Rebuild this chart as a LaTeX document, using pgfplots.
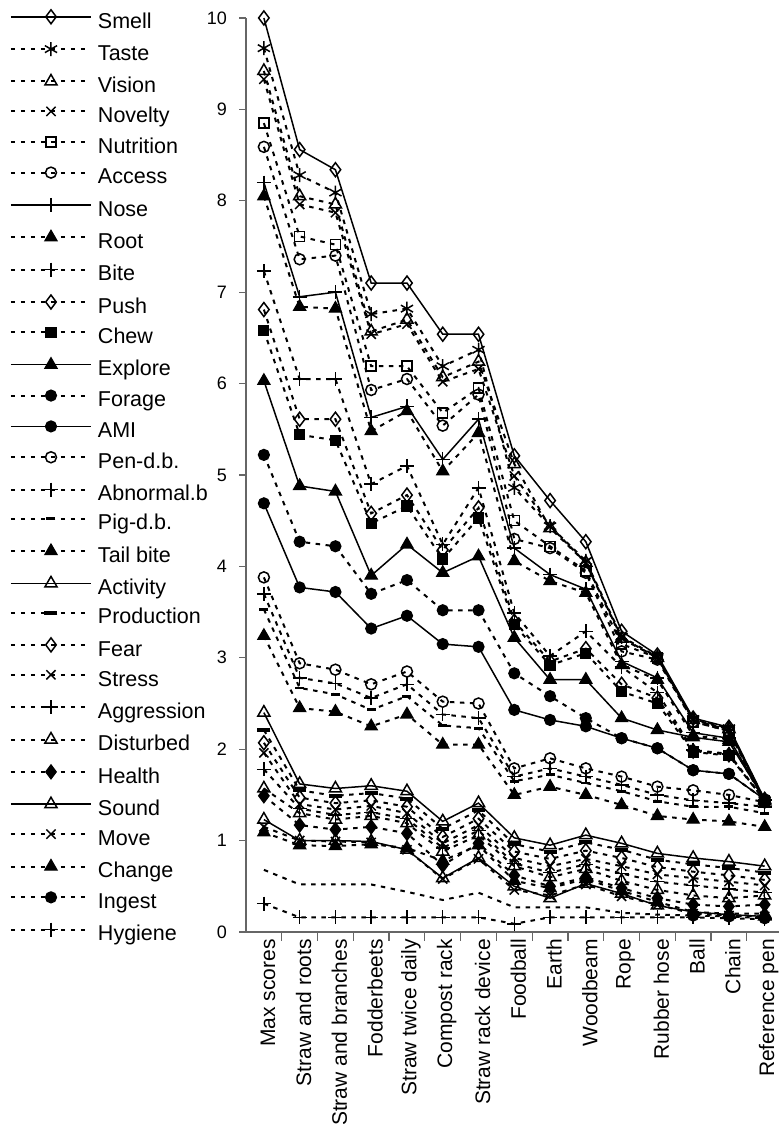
\documentclass[border=0pt]{standalone}
\usepackage{fontspec}
\setmainfont{Liberation Sans}
\usepackage{pgfplots}
\usepackage{pgfplotstable}
\pgfplotsset{compat=1.18}

\pgfplotstableread{
x Smell Taste Vision Novelty Nutrition Access Nose Root Bite Push Chew Explore Forage AMI Pen Abn Pig Tail Activity Production Fear Stress Aggression Disturbed Health Sound Move Change Ingest Hygiene
0 10.0 9.67 9.42 9.33 8.85 8.59 8.20 8.05 7.23 6.81 6.58 6.03 5.22 4.69 3.88 3.70 3.53 3.24 2.40 2.21 2.07 1.96 1.78 1.57 1.49 1.23 1.15 1.09 0.68 0.31
1 8.56 8.28 8.05 7.96 7.61 7.36 6.95 6.84 6.05 5.61 5.44 4.88 4.27 3.77 2.94 2.78 2.67 2.45 1.62 1.55 1.47 1.40 1.35 1.30 1.17 1.00 1.00 0.95 0.52 0.16
2 8.34 8.09 7.96 7.87 7.52 7.40 7.00 6.82 6.05 5.61 5.38 4.82 4.22 3.72 2.87 2.72 2.60 2.41 1.57 1.49 1.41 1.34 1.28 1.23 1.12 1.00 0.99 0.94 0.52 0.16
3 7.10 6.76 6.57 6.54 6.19 5.93 5.63 5.48 4.90 4.58 4.47 3.90 3.70 3.32 2.71 2.56 2.43 2.25 1.60 1.52 1.44 1.38 1.31 1.27 1.15 0.99 0.98 0.96 0.52 0.16
4 7.10 6.82 6.70 6.65 6.19 6.05 5.75 5.70 5.10 4.78 4.66 4.24 3.85 3.46 2.85 2.71 2.58 2.38 1.54 1.46 1.37 1.30 1.24 1.19 1.08 0.90 0.90 0.92 0.44 0.16
5 6.54 6.19 6.07 6.02 5.68 5.54 5.17 5.04 4.24 4.18 4.08 3.93 3.52 3.15 2.52 2.38 2.26 2.05 1.21 1.13 1.04 0.97 0.92 0.88 0.73 0.59 0.58 0.78 0.35 0.16
6 6.54 6.37 6.24 6.16 5.95 5.88 5.61 5.46 4.86 4.64 4.53 4.11 3.52 3.12 2.50 2.34 2.23 2.05 1.41 1.33 1.24 1.17 1.11 1.06 0.97 0.81 0.80 0.95 0.43 0.16
7 5.21 4.86 5.12 4.99 4.50 4.30 4.20 4.06 3.49 3.40 3.36 3.22 2.83 2.43 1.79 1.70 1.65 1.50 1.03 0.96 0.88 0.81 0.75 0.72 0.62 0.50 0.46 0.56 0.27 0.09
8 4.72 4.44 4.42 4.44 4.22 4.20 3.91 3.84 3.02 2.96 2.92 2.76 2.58 2.32 1.90 1.79 1.72 1.59 0.95 0.88 0.80 0.72 0.65 0.60 0.50 0.37 0.40 0.48 0.27 0.16
9 4.27 4.06 4.04 4.04 3.95 3.93 3.75 3.71 3.29 3.10 3.05 2.76 2.34 2.25 1.79 1.70 1.63 1.50 1.06 0.98 0.89 0.80 0.74 0.69 0.60 0.53 0.52 0.58 0.27 0.16
10 3.29 3.23 3.21 3.22 3.15 3.07 2.96 2.92 2.90 2.71 2.63 2.34 2.12 2.12 1.70 1.61 1.54 1.39 0.97 0.90 0.81 0.72 0.64 0.56 0.48 0.42 0.39 0.45 0.21 0.16
11 3.03 3.01 3.00 3.00 3.00 2.98 2.78 2.76 2.62 2.56 2.50 2.21 2.01 2.01 1.59 1.50 1.43 1.27 0.86 0.79 0.71 0.63 0.55 0.46 0.37 0.29 0.30 0.33 0.19 0.16
12 2.34 2.33 2.32 2.32 2.30 2.30 2.18 2.15 1.99 1.98 1.97 2.13 1.77 1.77 1.55 1.44 1.37 1.23 0.81 0.74 0.66 0.59 0.51 0.40 0.30 0.22 0.20 0.22 0.18 0.16
13 2.24 2.23 2.22 2.21 2.20 2.20 2.12 2.10 1.95 1.94 1.93 2.08 1.73 1.73 1.50 1.41 1.37 1.21 0.77 0.70 0.62 0.55 0.47 0.37 0.28 0.19 0.18 0.20 0.17 0.15
14 1.45 1.44 1.43 1.43 1.43 1.42 1.45 1.44 1.44 1.44 1.44 1.45 1.45 1.45 1.42 1.37 1.30 1.15 0.72 0.65 0.57 0.51 0.43 0.40 0.30 0.17 0.17 0.20 0.15 0.14
}\data

\tikzset{
  sl/.style={black, line width=1.5pt, solid},
  dl/.style={black, line width=2pt, dash pattern=on 4.5pt off 5.5pt},
  om/.style={mark options={solid, fill=white, line width=1.5pt}},
  fm/.style={mark options={solid, fill=black, line width=1.2pt}},
}

\begin{document}
\begin{tikzpicture}[x=1pt,y=1pt]
\useasboundingbox (0,0) rectangle (779,1147);
\begin{axis}[
  at={(246pt,215pt)}, anchor=south west,
  scale only axis, width=533pt, height=914pt,
  xmin=-0.5, xmax=14.4, ymin=0, ymax=10,
  clip=false,
  axis lines=left,
  axis line style={-, black!60, line width=1.4pt},
  tick align=outside,
  xtick={0,...,14},
  xticklabels={Max scores,Straw and roots,Straw and branches,Fodderbeets,Straw twice daily,Compost rack,Straw rack device,Foodball,Earth,Woodbeam,Rope,Rubber hose,Ball,Chain,Reference pen},
  major x tick style={draw=none},
  minor xtick={0.5,1.5,...,13.5},
  minor x tick style={black!60, line width=1.2pt},
  minor tick length=9pt,
  ytick={0,...,10},
  major y tick style={black!60, line width=1.2pt},
  major tick length=7pt,
  xticklabel style={rotate=90, anchor=east, font=\fontsize{21}{24}\selectfont, inner sep=0pt, yshift=-4pt},
  yticklabel style={font=\fontsize{18}{20}\selectfont, inner sep=0pt, xshift=-12pt},
  /pgf/number format/assume math mode=true,
  legend style={at={(-0.4428,1.009)}, anchor=north west, draw=none, fill=none,
    inner sep=0pt, outer sep=0pt, row sep=9.6pt, column sep=6pt,
    font=\fontsize{21.5}{24}\selectfont,
    nodes={inner sep=0pt, text height=15pt, text depth=4.5pt}},
  legend cell align=left,
  legend image code/.code={\draw[mark repeat=2,mark phase=2,#1] plot coordinates {(0pt,6pt) (40pt,6pt) (80pt,6pt)};},
]
\addplot[sl, mark=diamond, mark size=7pt, om] table[x=x,y=Smell]{\data}; \addlegendentry{Smell}
\addplot[dl, mark=asterisk, mark size=7pt, om] table[x=x,y=Taste]{\data}; \addlegendentry{Taste}
\addplot[dl, mark=triangle, mark size=7pt, om] table[x=x,y=Vision]{\data}; \addlegendentry{Vision}
\addplot[dl, mark=x, mark size=6.5pt, om] table[x=x,y=Novelty]{\data}; \addlegendentry{Novelty}
\addplot[dl, mark=square, mark size=5pt, om] table[x=x,y=Nutrition]{\data}; \addlegendentry{Nutrition}
\addplot[dl, mark=o, mark size=5.5pt, om] table[x=x,y=Access]{\data}; \addlegendentry{Access}
\addplot[sl, mark=+, mark size=7pt, om] table[x=x,y=Nose]{\data}; \addlegendentry{Nose}
\addplot[dl, mark=triangle*, mark size=7pt, fm] table[x=x,y=Root]{\data}; \addlegendentry{Root}
\addplot[dl, mark=+, mark size=7pt, om] table[x=x,y=Bite]{\data}; \addlegendentry{Bite}
\addplot[dl, mark=diamond, mark size=7pt, om] table[x=x,y=Push]{\data}; \addlegendentry{Push}
\addplot[dl, mark=square*, mark size=5pt, fm] table[x=x,y=Chew]{\data}; \addlegendentry{Chew}
\addplot[sl, mark=triangle*, mark size=7pt, fm] table[x=x,y=Explore]{\data}; \addlegendentry{Explore}
\addplot[dl, mark=*, mark size=5.5pt, fm] table[x=x,y=Forage]{\data}; \addlegendentry{Forage}
\addplot[sl, mark=*, mark size=5.5pt, fm] table[x=x,y=AMI]{\data}; \addlegendentry{AMI}
\addplot[dl, mark=o, mark size=5.5pt, om] table[x=x,y=Pen]{\data}; \addlegendentry{Pen-d.b.}
\addplot[dl, mark=+, mark size=7pt, om] table[x=x,y=Abn]{\data}; \addlegendentry{Abnormal.b}
\addplot[dl, mark=-, mark size=4.5pt, mark options={solid, line width=2.8pt}] table[x=x,y=Pig]{\data}; \addlegendentry{Pig-d.b.}
\addplot[dl, mark=triangle*, mark size=7pt, fm] table[x=x,y=Tail]{\data}; \addlegendentry{Tail bite}
\addplot[sl, mark=triangle, mark size=7pt, om] table[x=x,y=Activity]{\data}; \addlegendentry{Activity}
\addplot[dl, mark=-, mark size=6.5pt, mark options={solid, line width=4pt}] table[x=x,y=Production]{\data}; \addlegendentry{Production}
\addplot[dl, mark=diamond, mark size=7pt, om] table[x=x,y=Fear]{\data}; \addlegendentry{Fear}
\addplot[dl, mark=x, mark size=6.5pt, om] table[x=x,y=Stress]{\data}; \addlegendentry{Stress}
\addplot[dl, mark=+, mark size=7pt, om] table[x=x,y=Aggression]{\data}; \addlegendentry{Aggression}
\addplot[dl, mark=triangle, mark size=7pt, om] table[x=x,y=Disturbed]{\data}; \addlegendentry{Disturbed}
\addplot[dl, mark=diamond*, mark size=7pt, fm] table[x=x,y=Health]{\data}; \addlegendentry{Health}
\addplot[sl, mark=triangle, mark size=7pt, om] table[x=x,y=Sound]{\data}; \addlegendentry{Sound}
\addplot[dl, mark=x, mark size=6.5pt, om] table[x=x,y=Move]{\data}; \addlegendentry{Move}
\addplot[dl, mark=triangle*, mark size=7pt, fm] table[x=x,y=Change]{\data}; \addlegendentry{Change}
\addplot[dl, forget plot] table[x=x,y=Ingest]{\data};
\addplot[only marks, mark=*, mark size=5.5pt, fm, forget plot, restrict x to domain=11.5:14.5] table[x=x,y=Ingest]{\data};
\addlegendimage{dl, mark=*, mark size=5.5pt, fm}
\addlegendentry{Ingest}
\addplot[dl, mark=+, mark size=7pt, om] table[x=x,y=Hygiene]{\data}; \addlegendentry{Hygiene}
\end{axis}
\end{tikzpicture}
\end{document}
